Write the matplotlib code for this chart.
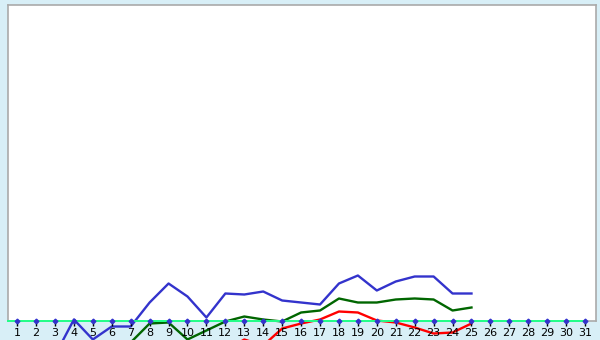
import matplotlib
matplotlib.use('Agg')
import matplotlib.pyplot as plt

days = list(range(1, 32))
data_days = list(range(1, 26))

# values in chart units (axis line = 0)
blue_vals = [-60, -55, -35, 1, -19, -6, -6, 18, 37, 24, 3, 27, 26, 29, 20,
             18, 16, 37, 45, 30, 39, 44, 44, 27, 27]
green_vals = [-80, -75, -70, -65, -60, -45, -22, -3, -2, -19, -10, -1, 4, 1, -1,
              8, 10, 22, 18, 18, 21, 22, 21, 10, 13]
red_vals = [-90, -90, -85, -85, -80, -80, -75, -70, -60, -50, -40, -30, -19, -25, -8,
            -3, 1, 9, 8, 0, -2, -7, -13, -12, -3]

bg = '#d8eff7'
fig = plt.figure(figsize=(6, 3.4), dpi=100, facecolor=bg)
ax = fig.add_axes([8 / 600, 19.5 / 340, 587.5 / 600, 315.5 / 340])
ax.set_facecolor('white')
ax.set_xlim(0.52, 31.55)
ax.set_ylim(0, 315.5)

for s in ax.spines.values():
    s.set_color('#aaaaaa')
    s.set_linewidth(1.2)

ax.plot(data_days, blue_vals, color='#3333cc', lw=1.7, clip_on=False, zorder=3)
ax.plot(data_days, green_vals, color='#006600', lw=1.7, clip_on=False, zorder=3)
ax.plot(data_days, red_vals, color='#ff0000', lw=1.7, clip_on=False, zorder=3)

# green axis line
ax.plot([0.52, 31], [0, 0], color='#22ff88', lw=1.4, clip_on=False, zorder=4)
# tick markers
ax.vlines(days, -5.5, 0, color='black', lw=1, clip_on=False, zorder=5)
ax.plot(days, [0] * len(days), 'D', color='#3333cc', ms=2.4, clip_on=False, zorder=6)

ax.set_xticks([])
ax.set_yticks([])
for d in days:
    ax.annotate(str(d), (d, 0), xytext=(0, -12), textcoords='offset pixels',
                ha='center', va='center', fontsize=8, annotation_clip=False)

fig.savefig('out.png', dpi=100, facecolor=bg)
